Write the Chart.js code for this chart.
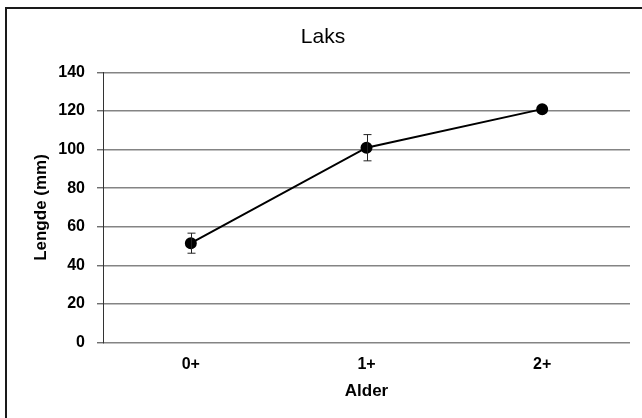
<!DOCTYPE html>
<html>
<head>
<meta charset="utf-8">
<title>Laks</title>
<script src="https://cdn.jsdelivr.net/npm/chart.js@4/dist/chart.umd.min.js"></script>
<style>
  html, body { margin: 0; padding: 0; background: #fff; }
  #wrap { position: relative; width: 642px; height: 418px; }
</style>
</head>
<body>
<div id="wrap"><canvas id="c" width="642" height="418"></canvas></div>
<script>
// Mean length (mm) per age class, with error (± mm)
const ageClasses = ['0+', '1+', '2+'];
const meanLength = [51.5, 101, 121];
const lengthError = [5.2, 6.8, 0];
const yTicks = [0, 20, 40, 60, 80, 100, 120, 140];

const FONT = "'Liberation Sans', Arial, sans-serif";

// White background and frame line round the chart
const framePlugin = {
  id: 'frame',
  beforeDraw(chart) {
    const ctx = chart.ctx;
    ctx.save();
    ctx.fillStyle = '#fff';
    ctx.fillRect(0, 0, chart.width, chart.height);
    ctx.strokeStyle = '#1a1a1a';
    ctx.lineWidth = 2;
    ctx.strokeRect(6, 8, 700, 500);
    ctx.restore();
  }
};

// Vertical error bars with short caps, placed through the chart scales
const errorBarPlugin = {
  id: 'errorBars',
  afterDatasetsDraw(chart) {
    const ctx = chart.ctx;
    const x = chart.scales.x, y = chart.scales.y;
    ctx.save();
    ctx.strokeStyle = '#222';
    ctx.lineWidth = 1;
    meanLength.forEach((v, i) => {
      const e = lengthError[i];
      if (!e) return;
      const px = Math.round(x.getPixelForValue(i)) + 0.5;
      const top = y.getPixelForValue(v + e);
      const bot = y.getPixelForValue(v - e);
      ctx.beginPath();
      ctx.moveTo(px, top); ctx.lineTo(px, bot);
      ctx.moveTo(px - 4, top); ctx.lineTo(px + 4, top);
      ctx.moveTo(px - 4, bot); ctx.lineTo(px + 4, bot);
      ctx.stroke();
    });
    ctx.restore();
  }
};

new Chart(document.getElementById('c'), {
  type: 'line',
  data: {
    labels: ageClasses,
    datasets: [{
      data: meanLength,
      borderColor: '#000',
      borderWidth: 2,
      backgroundColor: '#000',
      pointBackgroundColor: '#000',
      pointBorderColor: '#000',
      pointRadius: 5,
      tension: 0,
      fill: false
    }]
  },
  plugins: [framePlugin, errorBarPlugin],
  options: {
    responsive: false,
    animation: false,
    events: [],
    layout: { padding: { left: 16, right: 12, top: 0, bottom: 0 } },
    plugins: {
      legend: { display: false },
      tooltip: { enabled: false },
      title: {
        display: true,
        text: 'Laks',
        color: '#000',
        font: { family: FONT, size: 21, weight: 'normal', lineHeight: 1.2 },
        padding: { top: 24.4, bottom: 22.9 }
      }
    },
    scales: {
      x: {
        offset: true,
        grid: { display: false, drawTicks: false },
        border: { display: false },
        ticks: {
          color: '#000',
          padding: 12.9,
          font: { family: FONT, size: 16, weight: 'bold', lineHeight: 1.2 }
        },
        title: {
          display: true,
          text: 'Alder',
          color: '#000',
          font: { family: FONT, size: 17, weight: 'bold', lineHeight: 1.2 },
          padding: { top: 6, bottom: 16.1 }
        },
        afterFit(scale) { scale.height = 75.5; }
      },
      y: {
        min: 0,
        max: 140,
        afterBuildTicks(scale) { scale.ticks = yTicks.map(v => ({ value: v })); },
        grid: {
          color: '#848484',
          lineWidth: 1.6,
          drawTicks: true,
          tickLength: 6,
          tickColor: '#333',
          tickWidth: 1
        },
        border: { display: true, color: '#333', width: 1 },
        ticks: {
          color: '#000',
          padding: 12,
          font: { family: FONT, size: 16, weight: 'bold', lineHeight: 1.2 }
        },
        title: {
          display: true,
          text: 'Lengde (mm)',
          color: '#000',
          font: { family: FONT, size: 17, weight: 'bold', lineHeight: 1.2 },
          padding: { top: 14.8, bottom: 4 }
        },
        afterFit(scale) { scale.width = 87; }
      }
    }
  }
});
</script>
</body>
</html>
